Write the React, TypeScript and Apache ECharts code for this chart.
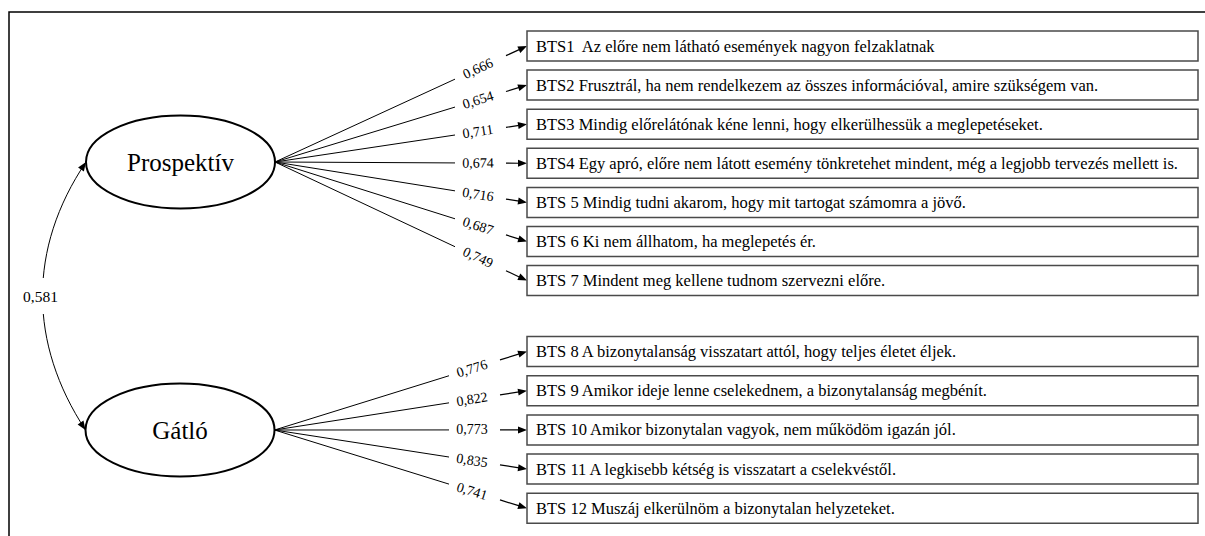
import React, { useEffect, useRef } from "react";
import * as echarts from "echarts";

// ---------- data ----------
const factors = ["Prospektív", "Gátló"];
const correlation = 0.581;
const itemTexts = [
  "BTS1  Az előre nem látható események nagyon felzaklatnak",
  "BTS2 Frusztrál, ha nem rendelkezem az összes információval, amire szükségem van.",
  "BTS3 Mindig előrelátónak kéne lenni, hogy elkerülhessük a meglepetéseket.",
  "BTS4 Egy apró, előre nem látott esemény tönkretehet mindent, még a legjobb tervezés mellett is.",
  "BTS 5 Mindig tudni akarom, hogy mit tartogat számomra a jövő.",
  "BTS 6 Ki nem állhatom, ha meglepetés ér.",
  "BTS 7 Mindent meg kellene tudnom szervezni előre.",
  "BTS 8 A bizonytalanság visszatart attól, hogy teljes életet éljek.",
  "BTS 9 Amikor ideje lenne cselekednem, a bizonytalanság megbénít.",
  "BTS 10 Amikor bizonytalan vagyok, nem működöm igazán jól.",
  "BTS 11 A legkisebb kétség is visszatart a cselekvéstől.",
  "BTS 12 Muszáj elkerülnöm a bizonytalan helyzeteket.",
];
const itemFactor = [0, 0, 0, 0, 0, 0, 0, 1, 1, 1, 1, 1];
const loadings = [0.666, 0.654, 0.711, 0.674, 0.716, 0.687, 0.749, 0.776, 0.822, 0.773, 0.835, 0.741];

// ---------- layout (pixel units on hidden axes) ----------
const W = 1205;
const H = 536;
const SERIF = "Liberation Serif";
const BOX_LEFT = 527;
const BOX_RIGHT = 1198;
const BOX_H = 30;
const GROUP_START = [46, 351.5];
const GROUP_STEP = [39.1, 39.2];
const FACTOR_C = [
  [180.5, 162],
  [180, 430],
];
const FACTOR_R = [94.5, 46.5];
const LABEL_X = [478, 472];
const GAP_BEFORE = 23;
const GAP_AFTER = 28;
const CURVE_CP = [
  [27.6, 248.6],
  [28.6, 343.4],
];

const fmt = (v: number) => v.toFixed(3).replace(".", ",");

function rowY(i: number) {
  const g = itemFactor[i];
  let k = 0;
  for (let j = 0; j < i; j++) if (itemFactor[j] === g) k++;
  return GROUP_START[g] + k * GROUP_STEP[g];
}

function arrowHead(tip: number[], dx: number, dy: number, len = 9, half = 3.5) {
  const L = Math.hypot(dx, dy);
  const ux = dx / L;
  const uy = dy / L;
  const bx = tip[0] - ux * len;
  const by = tip[1] - uy * len;
  return [
    [tip[0], tip[1]],
    [bx - uy * half, by + ux * half],
    [bx + uy * half, by - ux * half],
  ];
}

export default function App() {
  const ref = useRef<HTMLDivElement>(null);

  useEffect(() => {
    if (!ref.current) return;
    const chart = echarts.init(ref.current, undefined, { renderer: "svg" });

    const option: any = {
      animation: false,
      backgroundColor: "#ffffff",
      textStyle: { fontFamily: SERIF },
      grid: { left: 0, right: 0, top: 0, bottom: 0 },
      xAxis: { type: "value", min: 0, max: W, show: false },
      yAxis: { type: "value", min: 0, max: H, inverse: true, show: false },
      graphic: [
        {
          type: "polyline",
          shape: { points: [[9, H + 5], [9, 12], [W + 5, 12]] },
          style: { stroke: "#000", lineWidth: 1.5, fill: "none" },
          silent: true,
        },
      ],
      series: [
        // correlation curve
        {
          type: "custom",
          coordinateSystem: "cartesian2d",
          silent: true,
          data: [[0, correlation]],
          renderItem: (params: any, api: any) => {
            const p0 = api.coord([FACTOR_C[0][0] - FACTOR_R[0], FACTOR_C[0][1]]);
            const p3 = api.coord([FACTOR_C[1][0] - FACTOR_R[0], FACTOR_C[1][1]]);
            const c1 = api.coord(CURVE_CP[0]);
            const c2 = api.coord(CURVE_CP[1]);
            const mid = [
              (p0[0] + 3 * c1[0] + 3 * c2[0] + p3[0]) / 8,
              (p0[1] + 3 * c1[1] + 3 * c2[1] + p3[1]) / 8,
            ];
            return {
              type: "group",
              children: [
                {
                  type: "bezierCurve",
                  shape: {
                    x1: p0[0], y1: p0[1], x2: p3[0], y2: p3[1],
                    cpx1: c1[0], cpy1: c1[1], cpx2: c2[0], cpy2: c2[1],
                  },
                  style: { stroke: "#000", lineWidth: 1, fill: "none" },
                },
                {
                  type: "polygon",
                  shape: { points: arrowHead(p0, p0[0] - c1[0], p0[1] - c1[1]) },
                  style: { fill: "#000" },
                },
                {
                  type: "polygon",
                  shape: { points: arrowHead(p3, p3[0] - c2[0], p3[1] - c2[1]) },
                  style: { fill: "#000" },
                },
                {
                  type: "text",
                  x: mid[0] - 2,
                  y: mid[1],
                  style: {
                    text: fmt(api.value(1)),
                    fontFamily: SERIF,
                    fontSize: 15.5,
                    fill: "#000",
                    align: "center",
                    verticalAlign: "middle",
                    backgroundColor: "#fff",
                    padding: [10, 2],
                  },
                },
              ],
            };
          },
        },
        // factor ellipses
        {
          type: "custom",
          coordinateSystem: "cartesian2d",
          silent: true,
          data: factors.map((_, i) => [i]),
          renderItem: (params: any, api: any) => {
            const i = api.value(0);
            const c = api.coord(FACTOR_C[i]);
            const sz = api.size([FACTOR_R[0], FACTOR_R[1]]);
            return {
              type: "group",
              children: [
                {
                  type: "ellipse",
                  shape: { cx: c[0], cy: c[1], rx: sz[0], ry: sz[1] },
                  style: { fill: "#fff", stroke: "#000", lineWidth: 2 },
                },
                {
                  type: "text",
                  x: c[0],
                  y: c[1],
                  style: {
                    text: factors[i],
                    fontFamily: SERIF,
                    fontSize: 25,
                    fill: "#000",
                    align: "center",
                    verticalAlign: "middle",
                  },
                },
              ],
            };
          },
        },
        // items, loading paths and boxes
        {
          type: "custom",
          coordinateSystem: "cartesian2d",
          silent: true,
          data: itemTexts.map((_, i) => [i, loadings[i]]),
          renderItem: (params: any, api: any) => {
            const i = api.value(0);
            const g = itemFactor[i];
            const y = rowY(i);
            const origin = api.coord([FACTOR_C[g][0] + FACTOR_R[0], FACTOR_C[g][1]]);
            const tip = api.coord([BOX_LEFT, y]);
            const dx = tip[0] - origin[0];
            const dy = tip[1] - origin[1];
            const at = (x: number) => {
              const p = api.coord([x, 0]);
              const t = (p[0] - origin[0]) / dx;
              return [p[0], origin[1] + t * dy];
            };
            const lab = at(LABEL_X[g]);
            const gs = at(LABEL_X[g] - GAP_BEFORE);
            const ge = at(LABEL_X[g] + GAP_AFTER);
            const boxTL = api.coord([BOX_LEFT, y - BOX_H / 2]);
            const boxBR = api.coord([BOX_RIGHT, y + BOX_H / 2]);
            const ang = Math.atan2(dy, dx);
            const ah = arrowHead(tip, dx, dy);
            const L = Math.hypot(dx, dy);
            return {
              type: "group",
              children: [
                {
                  type: "line",
                  shape: { x1: origin[0], y1: origin[1], x2: gs[0], y2: gs[1] },
                  style: { stroke: "#000", lineWidth: 1 },
                },
                {
                  type: "line",
                  shape: {
                    x1: ge[0], y1: ge[1],
                    x2: tip[0] - (dx / L) * 8, y2: tip[1] - (dy / L) * 8,
                  },
                  style: { stroke: "#000", lineWidth: 1.2 },
                },
                {
                  type: "polygon",
                  shape: { points: ah },
                  style: { fill: "#000" },
                },
                {
                  type: "text",
                  x: lab[0],
                  y: lab[1],
                  rotation: -ang,
                  style: {
                    text: fmt(api.value(1)),
                    fontFamily: SERIF,
                    fontSize: 14,
                    fill: "#000",
                    align: "center",
                    verticalAlign: "middle",
                  },
                },
                {
                  type: "rect",
                  shape: {
                    x: boxTL[0], y: boxTL[1],
                    width: boxBR[0] - boxTL[0], height: boxBR[1] - boxTL[1],
                  },
                  style: { fill: "#fff", stroke: "#4a4a4a", lineWidth: 1.5 },
                },
                {
                  type: "text",
                  x: boxTL[0] + 9,
                  y: (boxTL[1] + boxBR[1]) / 2,
                  style: {
                    text: itemTexts[i],
                    fontFamily: SERIF,
                    fontSize: 16.5,
                    fill: "#000",
                    align: "left",
                    verticalAlign: "middle",
                  },
                },
              ],
            };
          },
        },
      ],
    };

    chart.setOption(option);
    return () => chart.dispose();
  }, []);

  return (
    <div
      ref={ref}
      style={{ position: "fixed", left: 0, top: 0, width: W, height: H, background: "#fff" }}
    />
  );
}
